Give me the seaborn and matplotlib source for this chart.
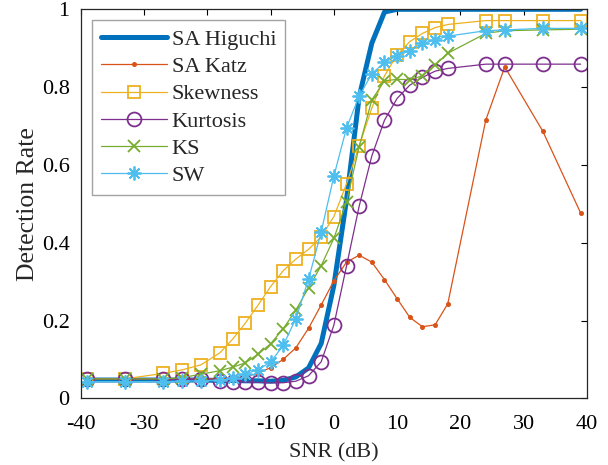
import matplotlib
matplotlib.use("Agg")
import matplotlib.pyplot as plt
import seaborn as sns
import pandas as pd

# SNR grid (dB)
snr = [-39, -33, -27, -24, -21, -18, -16, -14, -12, -10, -8, -6, -4, -2,
       0, 2, 4, 6, 8, 10, 12, 14, 16, 18, 24, 27, 33, 39]

# Detection rates per method
sa_higuchi = [0.047, 0.047, 0.047, 0.047, 0.047, 0.046, 0.046, 0.045, 0.045, 0.044,
              0.046, 0.055, 0.078, 0.141, 0.290, 0.510, 0.775, 0.913, 0.993, 1.0,
              1.0, 1.0, 1.0, 1.0, 1.0, 1.0, 1.0, 1.0]
sa_katz = [0.050, 0.050, 0.050, 0.050, 0.050, 0.050, 0.052, 0.056, 0.064, 0.079,
           0.100, 0.130, 0.180, 0.240, 0.302, 0.350, 0.368, 0.350, 0.305, 0.256,
           0.208, 0.184, 0.189, 0.243, 0.715, 0.852, 0.687, 0.476]
skewness = [0.050, 0.050, 0.064, 0.073, 0.086, 0.117, 0.152, 0.193, 0.239, 0.287,
            0.328, 0.358, 0.383, 0.415, 0.467, 0.551, 0.649, 0.746, 0.829, 0.883,
            0.917, 0.938, 0.953, 0.961, 0.971, 0.971, 0.971, 0.971]
kurtosis = [0.050, 0.050, 0.050, 0.050, 0.049, 0.044, 0.043, 0.042, 0.041, 0.040,
            0.040, 0.044, 0.058, 0.094, 0.188, 0.340, 0.494, 0.623, 0.715, 0.771,
            0.805, 0.825, 0.841, 0.848, 0.859, 0.859, 0.859, 0.859]
ks = [0.050, 0.050, 0.050, 0.053, 0.062, 0.071, 0.080, 0.091, 0.113, 0.140,
      0.179, 0.227, 0.284, 0.341, 0.411, 0.505, 0.647, 0.767, 0.816, 0.820,
      0.819, 0.829, 0.857, 0.887, 0.938, 0.945, 0.947, 0.949]
sw = [0.043, 0.043, 0.043, 0.044, 0.045, 0.046, 0.051, 0.063, 0.073, 0.093,
      0.136, 0.205, 0.306, 0.428, 0.571, 0.695, 0.777, 0.834, 0.864, 0.880,
      0.894, 0.913, 0.921, 0.931, 0.945, 0.947, 0.951, 0.951]

labels = ["SA Higuchi", "SA Katz", "Skewness", "Kurtosis", "KS", "SW"]
x_ticks = [-40, -30, -20, -10, 0, 10, 20, 30, 40]
y_ticks = [0, 0.2, 0.4, 0.6, 0.8, 1]
y_tick_labels = ["0", "0.2", "0.4", "0.6", "0.8", "1"]

SERIF = "Liberation Serif"
FS = 16

sns.set_theme(style="white")
plt.rcParams["font.family"] = [SERIF, "DejaVu Serif"]

fig = plt.figure(figsize=(6.08, 4.65), dpi=100)
ax = fig.add_axes([0.1327, 0.1434, 0.9655 - 0.1327, 0.98 - 0.1434])

df = pd.DataFrame({"snr": snr, "SA Higuchi": sa_higuchi, "SA Katz": sa_katz,
                   "Skewness": skewness, "Kurtosis": kurtosis, "KS": ks, "SW": sw})

styles = {
    "SA Higuchi": dict(color="#0072BD", lw=3.6),
    "SA Katz": dict(color="#D95319", lw=0.9, marker="o", markersize=2.8,
                    markerfacecolor="#D95319", markeredgecolor="#D95319"),
    "Skewness": dict(color="#EDB120", lw=0.9, marker="s", markersize=8.5,
                     markerfacecolor="none", markeredgecolor="#EDB120",
                     markeredgewidth=1.3),
    "Kurtosis": dict(color="#7E2F8E", lw=0.9, marker="o", markersize=10,
                     markerfacecolor="none", markeredgecolor="#7E2F8E",
                     markeredgewidth=1.3),
    "KS": dict(color="#77AC30", lw=0.9, marker="x", markersize=8.5,
               markeredgecolor="#77AC30", markeredgewidth=1.3),
    "SW": dict(color="#4DBEEE", lw=0.9, marker=(8, 2, 0), markersize=10,
               markeredgecolor="#4DBEEE", markeredgewidth=1.3),
}

for name in labels:
    kw = dict(styles[name])
    color = kw.pop("color")
    lw = kw.pop("lw")
    sns.lineplot(data=df, x="snr", y=name, ax=ax, color=color, linewidth=lw,
                 label=name, sort=False, estimator=None, **kw)

ax.set_xlim(-40, 40)
ax.set_ylim(0, 1)
ax.set_xticks(x_ticks)
ax.set_xticklabels([str(t) for t in x_ticks], family=SERIF)
ax.set_yticks(y_ticks)
ax.set_yticklabels(y_tick_labels, family=SERIF)
ax.tick_params(direction="in", length=4.5, width=0.8, top=True, right=True,
               labelsize=FS, colors="black")
ax.tick_params(axis="x", pad=12)
ax.tick_params(axis="y", pad=8)
for sp in ax.spines.values():
    sp.set_color("#262626")
    sp.set_linewidth(0.9)
ax.set_xlabel("SNR (dB)", fontsize=FS, family=SERIF, labelpad=7)
ax.set_ylabel("Detection Rate", fontsize=18.5, family=SERIF, labelpad=2)

leg = ax.legend(loc="upper left", bbox_to_anchor=(0.0, 1.0),
                prop=dict(family=SERIF, size=FS),
                frameon=True, fancybox=False, edgecolor="#8c8c8c",
                handlelength=3.0, handletextpad=0.2, labelspacing=0.30,
                borderpad=0.4, borderaxespad=0.5, numpoints=1)
leg.get_frame().set_linewidth(1.0)

fig.savefig("out.png", dpi=100, facecolor="white")
